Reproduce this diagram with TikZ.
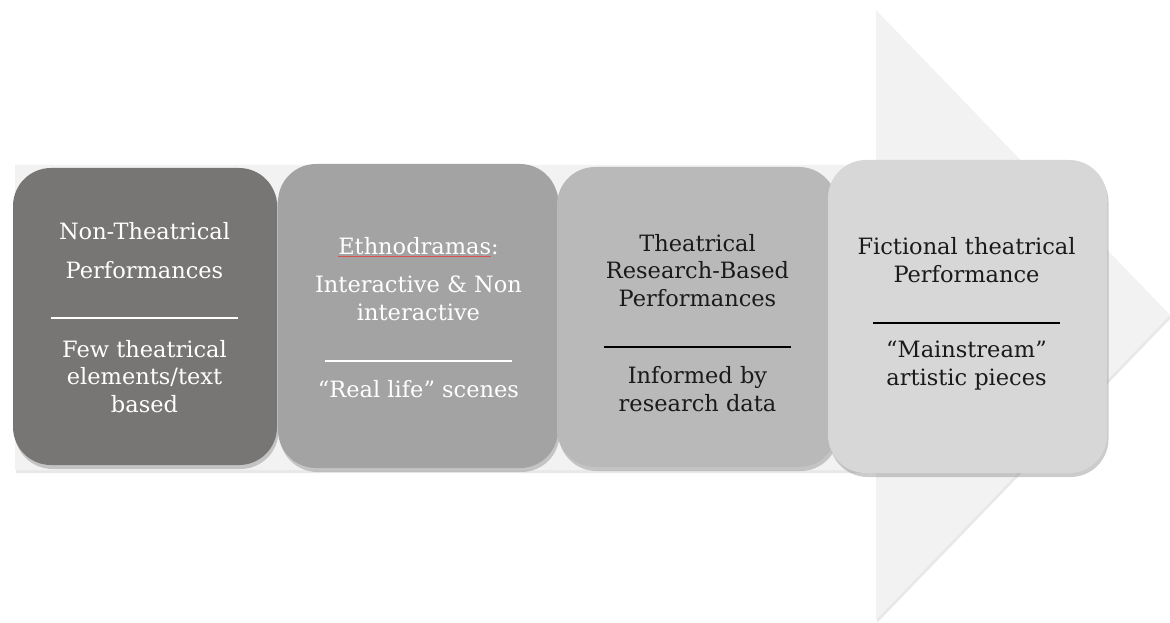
\documentclass[tikz,border=0pt]{standalone}
\usepackage{fontspec}
\setmainfont{DejaVu Serif}
\usepackage{tikz}
\usetikzlibrary{calc}
\usetikzlibrary{shapes,arrows,shadows}
\definecolor{arrowgray}{HTML}{F2F2F2}
\definecolor{stepone}{HTML}{787674}
\definecolor{steptwo}{HTML}{A3A3A3}
\definecolor{stepthree}{HTML}{B9B9B9}
\definecolor{stepfour}{HTML}{D7D7D7}
\definecolor{darktext}{HTML}{1A1A1A}
\definecolor{squigred}{HTML}{D9534F}
\newcommand{\spellmark}[1]{\setbox0\hbox{#1}\rlap{\color{squigred}\rule[-3pt]{\wd0}{0.8pt}}\box0}

\begin{document}
\begin{tikzpicture}[x=1pt,y=-1pt]
     \tikzstyle{every node}=[font=\fontsize{22.5}{27.5}\selectfont, align=center, inner sep=0pt]
     \tikzstyle{stage}=[rectangle, rounded corners=38pt, drop shadow={shadow xshift=1.5pt, shadow yshift=-4pt, opacity=0.4}]
     \tikzstyle{sepline}=[line width=1.6pt]
      \useasboundingbox (0,0) rectangle (1170,623);
      \coordinate (BodyTL)  at (15,165);
      \coordinate (BodyBL)  at (15,470);
      \coordinate (HeadTop) at (876,10);
      \coordinate (HeadBot) at (876,620);
      \coordinate (Tip)     at (1170,315);
      \fill [arrowgray, drop shadow={shadow xshift=1pt, shadow yshift=-3pt, opacity=0.18}]
            (BodyTL) -- (BodyTL -| HeadTop) -- (HeadTop) -- (Tip) -- (HeadBot)
            -- (BodyBL -| HeadBot) -- (BodyBL) -- cycle;
      \node [stage, fill=stepone,   minimum width=264pt, minimum height=297pt] (NonTheatrical) at (145,316.5) {};
      \node [stage, fill=steptwo,   minimum width=280pt, minimum height=304pt] (Ethnodrama)    at (418,316) {};
      \node [stage, fill=stepthree, minimum width=280pt, minimum height=300pt] (ResearchBased) at (697,317) {};
      \node [stage, fill=stepfour,  minimum width=279pt, minimum height=313pt] (Fictional)     at (967.5,316.5) {};
      \node [white, anchor=base] (NonTheatricalTitle) at (144.5,278) {Non-Theatrical\\[11.5pt]Performances};
      \node [white, anchor=base] (NonTheatricalBody)  at (144.5,412) {Few theatrical\\elements/text\\based};
      \node [white, anchor=base] (EthnodramaTitle)    at (418.5,320) {\spellmark{Ethnodramas}:\\[11pt]Interactive \& Non\\interactive};
      \node [white, anchor=base] (EthnodramaBody)     at (418.5,397) {“Real life” scenes};
      \node [darktext, anchor=base] (ResearchBasedTitle) at (697.5,306) {Theatrical\\Research-Based\\Performances};
      \node [darktext, anchor=base] (ResearchBasedBody)  at (697.5,411) {Informed by\\research data};
      \node [darktext, anchor=base] (FictionalTitle)     at (966.5,282) {Fictional theatrical\\Performance};
      \node [darktext, anchor=base] (FictionalBody)      at (966.5,385) {“Mainstream”\\artistic pieces};
      \draw [sepline, white] (51,318) -- (238,318);
      \draw [sepline, white] (325,361) -- (512,361);
      \draw [sepline, black] (604,347) -- (791,347);
      \draw [sepline, black] (873,323) -- (1060,323);
    \end{tikzpicture}
\end{document}
